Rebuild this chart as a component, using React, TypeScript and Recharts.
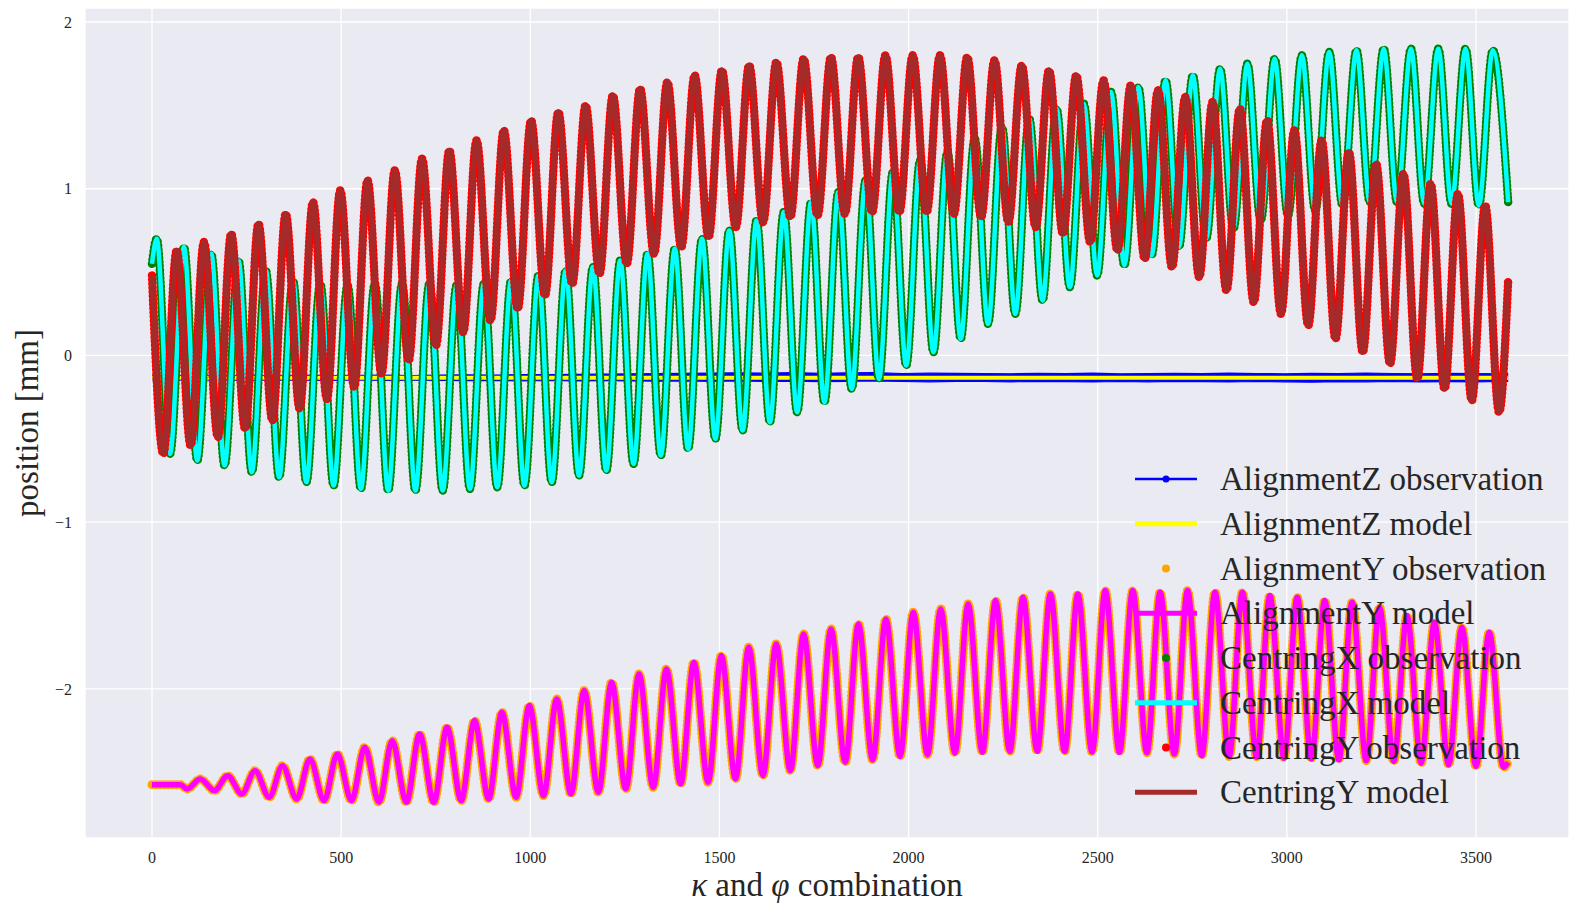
import { Area, CartesianGrid, ComposedChart, Legend, Line, XAxis, YAxis } from "recharts";

const SERIF = '"Liberation Serif", "Times New Roman", serif';
const INK = "#262626";

const xTicks = [0, 500, 1000, 1500, 2000, 2500, 3000, 3500];
const yTicks = [-2, -1, 0, 1, 2];

// one kappa step = one cycle of phi; extremes per cycle
const centringYTroughs = [
  -0.59, -0.54, -0.49, -0.44, -0.39, -0.32, -0.26, -0.19, -0.11, -0.03,
  0.06, 0.14, 0.21, 0.28, 0.36, 0.43, 0.49, 0.55, 0.61, 0.65,
  0.71, 0.77, 0.8, 0.83, 0.84, 0.85, 0.86, 0.86, 0.86, 0.85,
  0.83, 0.8, 0.77, 0.73, 0.68, 0.63, 0.58, 0.53, 0.47, 0.39,
  0.32, 0.25, 0.18, 0.1, 0.02, -0.05, -0.14, -0.2, -0.27, -0.34,
];
const centringYPeaks = [
  0.63, 0.68, 0.73, 0.79, 0.85, 0.92, 0.99, 1.05, 1.11, 1.18,
  1.23, 1.29, 1.35, 1.41, 1.46, 1.5, 1.56, 1.6, 1.64, 1.68,
  1.71, 1.74, 1.76, 1.78, 1.79, 1.79, 1.8, 1.8, 1.8, 1.79,
  1.77, 1.74, 1.71, 1.68, 1.65, 1.62, 1.59, 1.55, 1.52, 1.48,
  1.41, 1.35, 1.29, 1.22, 1.15, 1.09, 1.03, 0.97, 0.9,
];

const centringXPeaks = [
  0.7, 0.65, 0.61, 0.57, 0.51, 0.45, 0.43, 0.42, 0.43, 0.43,
  0.43, 0.42, 0.43, 0.45, 0.48, 0.51, 0.53, 0.57, 0.61, 0.64,
  0.7, 0.75, 0.81, 0.86, 0.92, 0.98, 1.05, 1.1, 1.17, 1.22,
  1.3, 1.37, 1.42, 1.48, 1.51, 1.58, 1.61, 1.65, 1.68, 1.72,
  1.75, 1.78, 1.8, 1.82, 1.83, 1.84, 1.84, 1.84, 1.84, 1.83,
];
const centringXTroughs = [
  -0.59, -0.63, -0.66, -0.7, -0.73, -0.76, -0.78, -0.8, -0.81, -0.81,
  -0.81, -0.8, -0.79, -0.78, -0.76, -0.72, -0.69, -0.65, -0.6, -0.56,
  -0.5, -0.45, -0.4, -0.34, -0.28, -0.2, -0.14, -0.06, 0.02, 0.1,
  0.19, 0.25, 0.33, 0.41, 0.48, 0.54, 0.6, 0.65, 0.7, 0.76,
  0.81, 0.84, 0.87, 0.9, 0.92, 0.92, 0.91, 0.91, 0.9,
];

const alignmentYTroughs = [
  -2.6, -2.61, -2.63, -2.65, -2.66, -2.67, -2.67, -2.68, -2.68, -2.68,
  -2.67, -2.66, -2.65, -2.64, -2.63, -2.62, -2.6, -2.59, -2.57, -2.56,
  -2.54, -2.52, -2.49, -2.46, -2.44, -2.425, -2.405, -2.395, -2.385, -2.38,
  -2.375, -2.374, -2.374, -2.378, -2.38, -2.382, -2.39, -2.4, -2.405, -2.41,
  -2.415, -2.42, -2.425, -2.43, -2.435, -2.445, -2.455, -2.465, -2.47,
];
const alignmentYPeaks = [
  -2.54, -2.52, -2.49, -2.46, -2.42, -2.39, -2.35, -2.31, -2.27, -2.23,
  -2.19, -2.14, -2.1, -2.06, -2.01, -1.96, -1.91, -1.88, -1.84, -1.8,
  -1.75, -1.73, -1.67, -1.64, -1.61, -1.58, -1.54, -1.52, -1.49, -1.47,
  -1.45, -1.43, -1.43, -1.41, -1.41, -1.42, -1.41, -1.42, -1.42, -1.44,
  -1.45, -1.47, -1.48, -1.51, -1.56, -1.6, -1.63, -1.66,
];

const alignmentZHigh = [
  -0.12, -0.118, -0.121, -0.119, -0.12, -0.118, -0.121, -0.119, -0.118, -0.12,
  -0.117, -0.116, -0.118, -0.115, -0.114, -0.113, -0.112, -0.11, -0.109, -0.107,
  -0.105, -0.104, -0.106, -0.103, -0.107, -0.104, -0.103, -0.108, -0.106, -0.107,
  -0.108, -0.11, -0.107, -0.109, -0.106, -0.11, -0.108, -0.107, -0.109, -0.106,
  -0.108, -0.11, -0.107, -0.109, -0.105, -0.108, -0.11, -0.107, -0.108, -0.11,
];
const alignmentZLow = [
  -0.146, -0.148, -0.147, -0.149, -0.146, -0.148, -0.15, -0.147, -0.149, -0.148,
  -0.15, -0.151, -0.149, -0.152, -0.15, -0.153, -0.151, -0.152, -0.154, -0.152,
  -0.155, -0.153, -0.156, -0.154, -0.157, -0.155, -0.153, -0.156, -0.158, -0.155,
  -0.156, -0.158, -0.155, -0.157, -0.159, -0.156, -0.158, -0.155, -0.157, -0.159,
  -0.156, -0.158, -0.16, -0.157, -0.158, -0.156, -0.159, -0.157, -0.158, -0.156,
];
const alignmentZModel = [-0.134, -0.134];

const LAST_X = 3585;

type Pt = { x: number; y: number };

function wave(
  start: Pt[],
  troughs: number[],
  peaks: number[],
  cycle: { period: number; troughAt: number; peakAt: number; first: number },
  end: Pt[]
): Pt[] {
  const pts: Pt[] = [...start];
  troughs.forEach((y, i) => pts.push({ x: cycle.troughAt + (cycle.first + i) * cycle.period, y }));
  peaks.forEach((y, i) => pts.push({ x: cycle.peakAt + (cycle.first + i) * cycle.period, y }));
  pts.push(...end);
  return pts.sort((a, b) => a.x - b.x);
}

const centringY = wave(
  [{ x: 0, y: 0.48 }],
  centringYTroughs,
  centringYPeaks,
  { period: 72.06, troughAt: 30, peakAt: 65.3, first: 0 },
  [{ x: LAST_X, y: 0.45 }]
);
const centringX = wave(
  [{ x: 0, y: 0.55 }],
  centringXTroughs,
  centringXPeaks,
  { period: 72.08, troughAt: 47.6, peakAt: 12.4, first: 0 },
  [{ x: LAST_X, y: 0.92 }]
);
const alignmentY = wave(
  [{ x: 0, y: -2.574 }, { x: 75, y: -2.574 }],
  alignmentYTroughs,
  alignmentYPeaks,
  { period: 72.5, troughAt: 20, peakAt: 55, first: 1 },
  [{ x: LAST_X, y: -2.44 }]
);
const alignmentZObs = [
  { x: 0, y: [alignmentZLow[0], alignmentZHigh[0]] },
  ...alignmentZHigh.map((hi, k) => ({ x: 36 + k * 72.1, y: [alignmentZLow[k], hi] })),
  { x: LAST_X, y: [alignmentZLow[49], alignmentZHigh[49]] },
];
const alignmentZFit = [
  { x: 0, y: alignmentZModel[0] },
  { x: LAST_X, y: alignmentZModel[1] },
];

const legendItems = [
  { label: "AlignmentZ observation", color: "#0000ff", kind: "lineDot" },
  { label: "AlignmentZ model", color: "#ffff00", kind: "line" },
  { label: "AlignmentY observation", color: "#ffa500", kind: "dot" },
  { label: "AlignmentY model", color: "#ff00ff", kind: "line" },
  { label: "CentringX observation", color: "#008000", kind: "dot" },
  { label: "CentringX model", color: "#00ffff", kind: "line" },
  { label: "CentringY observation", color: "#ff0000", kind: "dot" },
  { label: "CentringY model", color: "#a52a2a", kind: "line" },
];

function LegendBox() {
  return (
    <svg width={439} height={360} style={{ display: "block", overflow: "visible" }}>
      {legendItems.map((it, i) => {
        const cy = 22 + i * 44.75;
        return (
          <g key={it.label}>
            {it.kind !== "dot" && (
              <line x1={5} x2={67} y1={cy} y2={cy} stroke={it.color} strokeWidth={it.kind === "lineDot" ? 2.5 : 5} />
            )}
            {it.kind !== "line" && <circle cx={36} cy={cy} r={it.kind === "lineDot" ? 3.5 : 4} fill={it.color} />}
            <text x={90} y={cy + 11} fontSize={33} fontFamily={SERIF} fill={INK}>
              {it.label}
            </text>
          </g>
        );
      })}
    </svg>
  );
}

function XTitle({ viewBox }: any) {
  const { x, y, width } = viewBox;
  return (
    <text x={x + width / 2} y={y + 58} textAnchor="middle" fontSize={33} fontFamily={SERIF} fill={INK}>
      <tspan fontStyle="italic">κ</tspan> and <tspan fontStyle="italic">φ</tspan> combination
    </text>
  );
}

function YTitle({ viewBox }: any) {
  const { y, height } = viewBox;
  const cy = y + height / 2;
  return (
    <text x={38} y={cy} transform={`rotate(-90 38 ${cy})`} textAnchor="middle" fontSize={33} fontFamily={SERIF} fill={INK}>
      position [mm]
    </text>
  );
}

const minus = (v: number) => (v < 0 ? `\u2212${-v}` : `${v}`);

const obs = { type: "monotone" as const, dot: false, activeDot: false, isAnimationActive: false, strokeLinecap: "round" as const };

export default function App() {
  return (
    <div style={{ position: "absolute", left: 0, top: 0, width: 1569, height: 904, overflow: "hidden", background: "#fff" }}>
      <ComposedChart width={1569} height={904} margin={{ top: 8, right: 0, bottom: 0, left: 0 }}>
        <CartesianGrid fill="#eaeaf2" fillOpacity={1} stroke="#ffffff" strokeWidth={1.3} />
        <XAxis
          dataKey="x"
          type="number"
          domain={[-177.1, 3745.8]}
          allowDataOverflow
          ticks={xTicks}
          height={66}
          tickLine={false}
          axisLine={false}
          tickSize={0}
          tickMargin={14}
          tick={{ fontSize: 16, fill: INK, fontFamily: SERIF }}
          label={<XTitle />}
        />
        <YAxis
          type="number"
          domain={[-2.894, 2.084]}
          allowDataOverflow
          ticks={yTicks}
          width={85}
          tickLine={false}
          axisLine={false}
          tickSize={0}
          tickMargin={13}
          tickFormatter={minus}
          tick={{ fontSize: 16, fill: INK, fontFamily: SERIF }}
          label={<YTitle />}
        />
        <Area
          data={alignmentZObs}
          dataKey="y"
          type="linear"
          stroke="#0000ff"
          strokeWidth={1.2}
          fill="#0000ff"
          fillOpacity={1}
          dot={false}
          activeDot={false}
          isAnimationActive={false}
        />
        <Line data={alignmentZFit} dataKey="y" type="linear" stroke="#ffff00" strokeWidth={4} dot={false} activeDot={false} isAnimationActive={false} />
        <Line data={alignmentY} dataKey="y" {...obs} stroke="#ffa500" strokeWidth={9} strokeDasharray="0.1 4" />
        <Line data={alignmentY} dataKey="y" type="monotone" stroke="#ff00ff" strokeWidth={5.5} dot={false} activeDot={false} isAnimationActive={false} />
        <Line data={centringX} dataKey="y" {...obs} stroke="#008000" strokeWidth={8.5} strokeDasharray="0.1 4" />
        <Line data={centringX} dataKey="y" type="monotone" stroke="#00ffff" strokeWidth={4.5} dot={false} activeDot={false} isAnimationActive={false} />
        <Line data={centringY} dataKey="y" {...obs} stroke="#ff0000" strokeWidth={8.5} strokeDasharray="0.1 4" />
        <Line data={centringY} dataKey="y" type="monotone" stroke="#a52a2a" strokeWidth={5.5} dot={false} activeDot={false} isAnimationActive={false} />
        <Legend
          layout="vertical"
          align="center"
          verticalAlign="middle"
          content={() => <LegendBox />}
          wrapperStyle={{ position: "absolute", left: 1130, top: 457, width: 439, height: 360 }}
        />
      </ComposedChart>
    </div>
  );
}
